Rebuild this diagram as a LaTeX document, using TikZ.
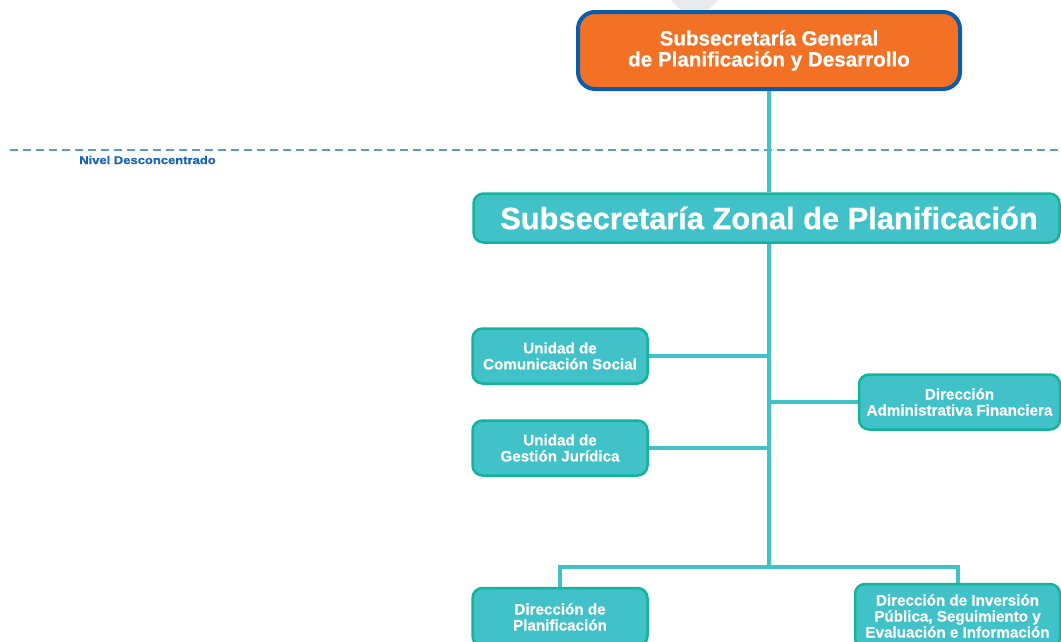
\documentclass[tikz,border=0pt]{standalone}
\usepackage{fontspec}
\newfontfamily\boxf{Liberation Sans}[FakeBold=0.6]
\newfontfamily\zonf{Liberation Sans}[FakeBold=0.8]
\newfontfamily\nivf{Liberation Sans}[FakeStretch=1.15,FakeBold=1]
\definecolor{orng}{HTML}{F37124}
\definecolor{bluebd}{HTML}{0B5DAA}
\definecolor{tealf}{HTML}{41C1C8}
\definecolor{tealbd}{HTML}{14B39B}
\definecolor{dashc}{HTML}{5A9BD6}
\definecolor{nivc}{HTML}{1A62B5}
\definecolor{greyc}{HTML}{E8EAED}
\begin{document}
\begin{tikzpicture}[x=1pt,y=-1pt,
  unitbox/.style={draw=tealbd,fill=tealf,line width=2.5pt,rounded corners=10pt,
    text=white,align=center,inner sep=0pt,
    font=\boxf\bfseries\fontsize{15.2}{16}\selectfont},
  link/.style={draw=tealf,line width=4pt}]
\useasboundingbox (0,0) rectangle (1061,641);
% grey chevron behind the top box
\fill[greyc] (671,0) -- (718,0) -- (694,24) -- cycle;
% top box
\node[draw=bluebd,fill=orng,line width=4pt,rounded corners=17pt,
  minimum width=382pt,minimum height=77pt,inner sep=0pt,
  text=white,align=center,font=\boxf\bfseries\fontsize{20.6}{21}\selectfont]
  (top) at (769,50.5) {Subsecretaría General\\de Planificación y Desarrollo};
% dashed level line
\coordinate (dl) at (10,150);
\coordinate (dr) at (1061,150);
\draw[dashc,line width=1.5pt,dash pattern=on 8pt off 5pt] (dl) -- (dr);
\node[text=nivc,inner sep=0pt,font=\nivf\bfseries\fontsize{11.3}{13}\selectfont]
  (nivel) at (147.5,160) {Nivel Desconcentrado};
% zonal box
\node[unitbox,minimum width=586pt,minimum height=49pt,
  font=\zonf\bfseries\fontsize{30.8}{34}\selectfont]
  (zonal) at (766.5,218) {\hspace*{5pt}Subsecretaría Zonal de Planificación};
% units
\node[unitbox,minimum width=175pt,minimum height=55pt] (com) at (560,356)
  {Unidad de\\Comunicación Social};
\node[unitbox,minimum width=175pt,minimum height=55pt] (jur) at (560,448)
  {Unidad de\\Gestión Jurídica};
\node[unitbox,minimum width=201pt,minimum height=55pt] (adm) at (959.5,402)
  {Dirección\\Administrativa Financiera};
\node[unitbox,minimum width=175pt,minimum height=58pt] (pla) at (560,617)
  {Dirección de\\Planificación};
\node[unitbox,minimum width=205pt,minimum height=64pt] (inv) at (957.5,616)
  {Dirección de Inversión\\Pública, Seguimiento y\\Evaluación e Información};
% connectors
\coordinate (sp) at (769,567);
\draw[link] (top.south -| sp) -- (zonal.north -| sp);
\draw[link] (zonal.south -| sp) -- (sp);
\draw[link] (com.east) -- (com.east -| sp);
\draw[link] (jur.east) -- (jur.east -| sp);
\draw[link] (adm.west) -- (adm.west -| sp);
\draw[link] (pla.north) |- (sp) -| (inv.north);
\end{tikzpicture}
\end{document}
